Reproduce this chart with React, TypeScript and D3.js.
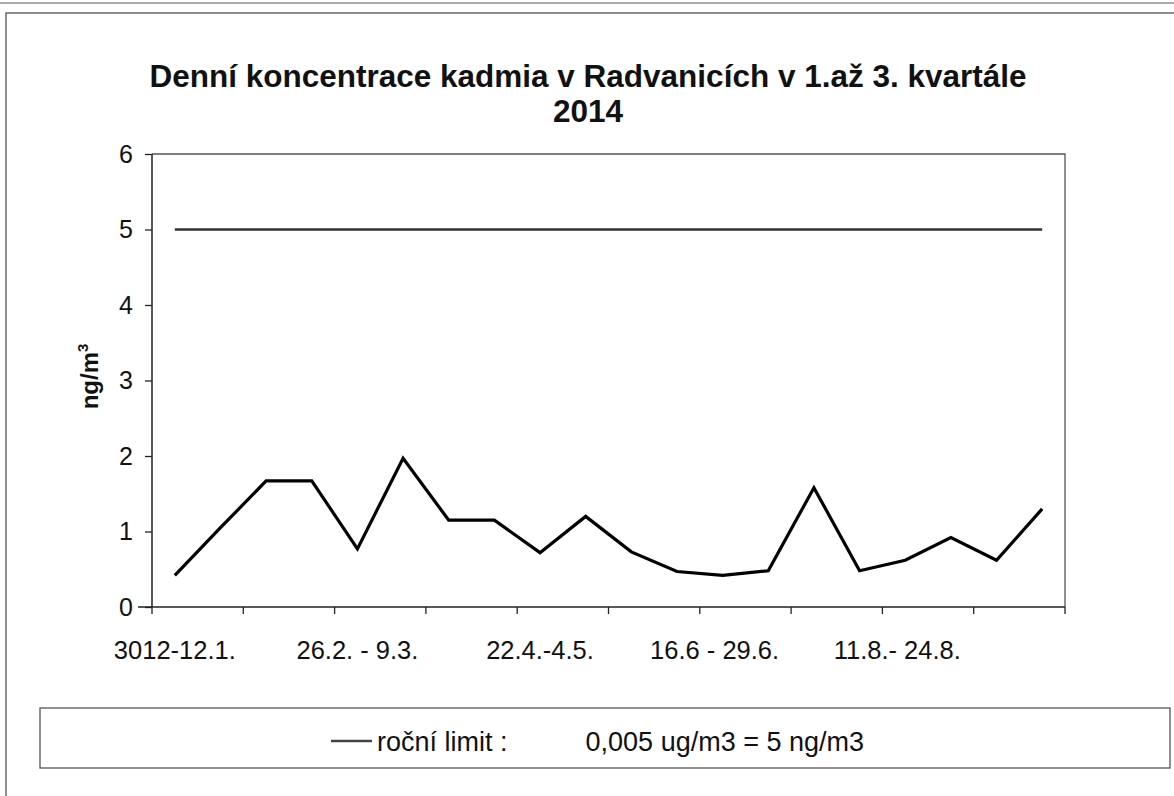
import React, { createRef, Component } from 'react';
import * as d3 from 'd3';

// dvoutydenni odbery, hodnoty v ng/m3
const cadmium = [0.42, 1.05, 1.67, 1.67, 0.77, 1.97, 1.15, 1.15, 0.72, 1.2, 0.73, 0.47, 0.42, 0.48, 1.58, 0.48, 0.62, 0.92, 0.62, 1.3];
const limitValue = 5;
const tickLabels = ["3012-12.1.", "26.2. - 9.3.", "22.4.-4.5.", "16.6 - 29.6.", "11.8.- 24.8."];
const tickLabelIndex = [0, 4, 8, 12, 16];
const yTicks = [0, 1, 2, 3, 4, 5, 6];

const FONT = "'Liberation Sans', Arial, sans-serif";

class CadmiumChart extends Component<any> {
  ref = createRef<SVGSVGElement>();

  componentDidMount() {
    const svg = d3.select(this.ref.current);
    const width = 1174;
    const height = 796;
    const left = 152, right = 1065, top = 154, bottom = 607;

    svg.attr("width", width).attr("height", height);

    const x = d3.scaleBand<number>()
      .domain(d3.range(cadmium.length))
      .range([left, right]);
    const y = d3.scaleLinear().domain([0, 6]).range([bottom, top]);
    const cx = (i: number) => (x(i) as number) + x.bandwidth() / 2;

    // ramecek grafu
    svg.append("line")
      .attr("x1", 0).attr("x2", width).attr("y1", 3).attr("y2", 3)
      .attr("stroke", "#555").attr("stroke-width", 1.2);
    svg.append("rect")
      .attr("x", 6).attr("y", 13).attr("width", width).attr("height", 820)
      .attr("fill", "none").attr("stroke", "#444").attr("stroke-width", 1.2);

    // nadpis
    const title = svg.append("text")
      .attr("text-anchor", "middle")
      .attr("font-family", FONT)
      .attr("font-weight", "bold")
      .attr("font-size", 31.5)
      .attr("fill", "#111");
    title.append("tspan").attr("x", 588).attr("y", 87)
      .text("Denní koncentrace kadmia v Radvanicích v 1.až 3. kvartále");
    title.append("tspan").attr("x", 588).attr("y", 122).text("2014");

    // plot area border
    svg.append("path")
      .attr("d", `M${left},${top}H${right}V${bottom}`)
      .attr("fill", "none").attr("stroke", "#555").attr("stroke-width", 1.3);

    // osa y
    const yAxis = svg.append("g")
      .attr("transform", `translate(${left},0)`)
      .call(d3.axisLeft(y).tickValues(yTicks).tickSize(7).tickPadding(12).tickFormat(d3.format("d")));
    yAxis.select(".domain").remove();
    yAxis.append("line").attr("y1", top).attr("y2", bottom).attr("stroke", "#222").attr("stroke-width", 1.5);
    yAxis.selectAll(".tick line").attr("stroke", "#222").attr("stroke-width", 1.3);
    yAxis.selectAll(".tick text")
      .attr("font-family", FONT).attr("font-size", 25).attr("fill", "#111");

    const yTitle = svg.append("text")
      .attr("transform", `translate(98,${(top + bottom) / 2 - 4}) rotate(-90)`)
      .attr("text-anchor", "middle")
      .attr("font-family", FONT)
      .attr("font-weight", "bold")
      .attr("font-size", 24)
      .attr("fill", "#111");
    yTitle.append("tspan").text("ng/m");
    yTitle.append("tspan").attr("font-size", 15).attr("dy", -10).text("3");

    // osa x
    svg.append("line")
      .attr("x1", left - 14).attr("x2", right)
      .attr("y1", bottom).attr("y2", bottom)
      .attr("stroke", "#222").attr("stroke-width", 1.5);
    const boundaries = d3.range(0, cadmium.length + 1, 2)
      .map(i => (i < cadmium.length ? (x(i) as number) : right));
    svg.append("g").selectAll("line")
      .data(boundaries)
      .enter().append("line")
      .attr("x1", d => d).attr("x2", d => d)
      .attr("y1", bottom).attr("y2", bottom + 7)
      .attr("stroke", "#222").attr("stroke-width", 1.3);
    svg.append("g").selectAll("text")
      .data(tickLabels)
      .enter().append("text")
      .attr("x", (d, i) => cx(tickLabelIndex[i]) - (i > 2 ? 8 : 0))
      .attr("y", bottom + 52)
      .attr("text-anchor", "middle")
      .attr("font-family", FONT)
      .attr("font-size", 25.5)
      .attr("fill", "#111")
      .text(d => d);

    // rocni limit
    svg.append("line")
      .attr("x1", cx(0)).attr("x2", cx(cadmium.length - 1))
      .attr("y1", y(limitValue)).attr("y2", y(limitValue))
      .attr("stroke", "#333").attr("stroke-width", 2.5);

    // namerene hodnoty
    const line = d3.line<number>()
      .x((d, i) => cx(i))
      .y(d => y(d));
    svg.append("path")
      .datum(cadmium)
      .attr("d", line)
      .attr("fill", "none")
      .attr("stroke", "#000")
      .attr("stroke-width", 3.2)
      .attr("stroke-linejoin", "miter");

    // legenda
    svg.append("rect")
      .attr("x", 40).attr("y", 708).attr("width", 1130).attr("height", 60)
      .attr("fill", "none").attr("stroke", "#555").attr("stroke-width", 1.3);
    svg.append("line")
      .attr("x1", 331).attr("x2", 372).attr("y1", 741).attr("y2", 741)
      .attr("stroke", "#444").attr("stroke-width", 2.5);
    svg.append("text")
      .attr("x", 377).attr("y", 751)
      .attr("font-family", FONT).attr("font-size", 27).attr("fill", "#111")
      .text("roční limit  :");
    svg.append("text")
      .attr("x", 864).attr("y", 751)
      .attr("text-anchor", "end")
      .attr("font-family", FONT).attr("font-size", 27).attr("fill", "#111")
      .text("0,005 ug/m3 = 5 ng/m3");
  }

  render() {
    return <svg ref={this.ref} style={{ position: "absolute", left: 0, top: 0, background: "#fff" }} />;
  }
}

export default function App() {
  return <CadmiumChart />;
}
